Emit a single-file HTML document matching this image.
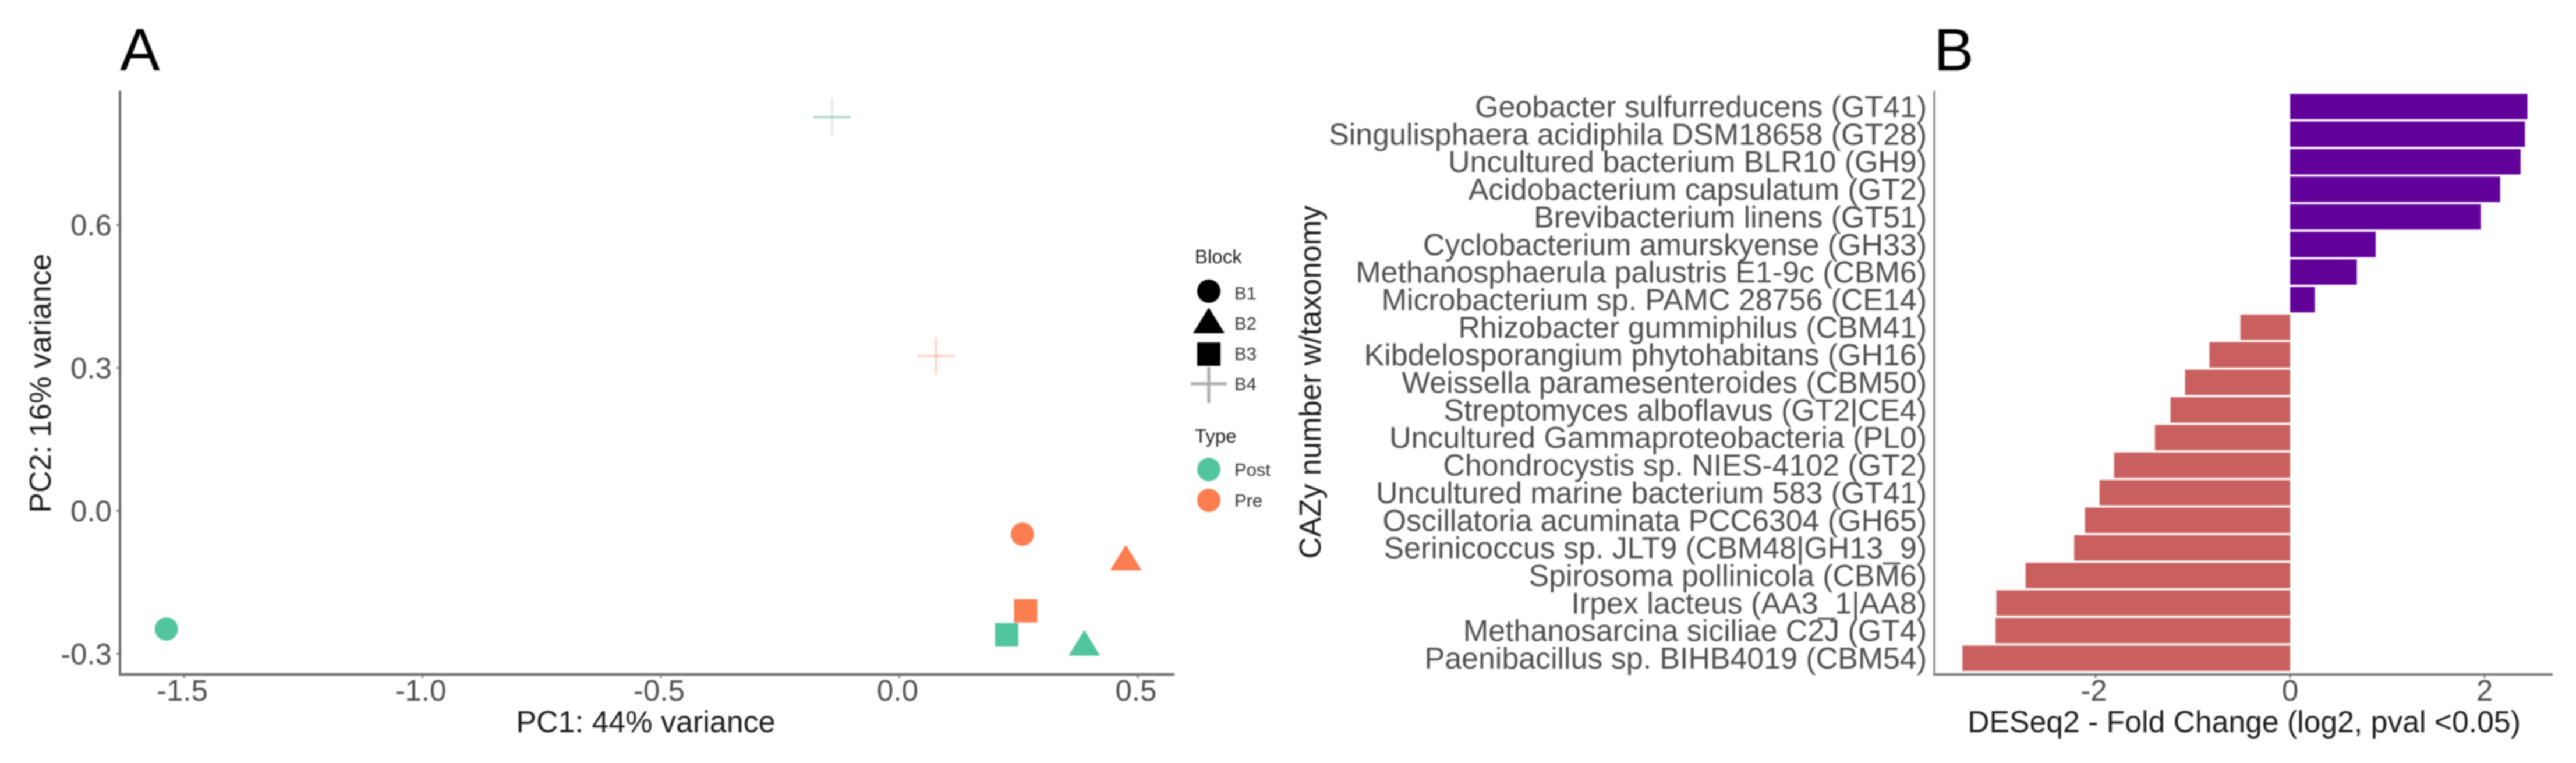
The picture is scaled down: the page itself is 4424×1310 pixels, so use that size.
<!DOCTYPE html>
<html lang="en">
<head>
<meta charset="utf-8">
<title>PCA and DESeq2 fold change</title>
<style>
html,body{margin:0;padding:0;background:#fff;width:4424px;height:1310px;overflow:hidden}
svg{display:block;font-family:"Liberation Sans",sans-serif;filter:blur(1.2px)}
</style>
</head>
<body>
<svg id="fig" width="4424" height="1310" viewBox="0 0 4424 1310" xmlns="http://www.w3.org/2000/svg">
<rect width="4424" height="1310" fill="#fff"/>
<text x="206" y="121" font-size="103" fill="#000">A</text>
<text x="3321" y="121" font-size="103" fill="#000">B</text>
<g id="panelA"></g>
<g id="panelB"></g>
<line x1="206" y1="156" x2="206" y2="1160" stroke="#666" stroke-width="4"/>
<line x1="204" y1="1158" x2="2017" y2="1158" stroke="#777" stroke-width="5"/>
<text x="1109" y="1257" font-size="52" text-anchor="middle" fill="#1a1a1a">PC1: 44% variance</text>
<text transform="translate(87,658) rotate(-90)" font-size="52" text-anchor="middle" fill="#1a1a1a">PC2: 16% variance</text>
<line x1="3322" y1="156" x2="3322" y2="1160" stroke="#777" stroke-width="3"/>
<line x1="3320" y1="1158" x2="4384" y2="1158" stroke="#777" stroke-width="4"/>
<text x="3854" y="1257" font-size="51.7" text-anchor="middle" fill="#1a1a1a">DESeq2 - Fold Change (log2, pval &lt;0.05)</text>
<text transform="translate(2268,656) rotate(-90)" font-size="51.5" text-anchor="middle" fill="#1a1a1a">CAZy number w/taxonomy</text>
<g id="legend">
<text x="2052" y="452" font-size="33" fill="#222">Block</text>
<circle cx="2076" cy="500" r="20" fill="#000"/>
<polygon points="2076,528 2103,572 2049,572" fill="#000"/>
<rect x="2056" y="588" width="40" height="40" fill="#000"/>
<path d="M2045 659H2107M2076 630V692" stroke="#aaa" stroke-width="5" fill="none"/>
<text x="2120" y="514" font-size="31" fill="#333">B1</text>
<text x="2120" y="566" font-size="31" fill="#333">B2</text>
<text x="2120" y="618" font-size="31" fill="#333">B3</text>
<text x="2120" y="670" font-size="31" fill="#333">B4</text>
<text x="2052" y="760" font-size="33" fill="#222">Type</text>
<circle cx="2076" cy="806" r="20" fill="#52c59f"/>
<circle cx="2076" cy="859" r="20" fill="#fb7d50"/>
<text x="2120" y="817" font-size="31" fill="#333">Post</text>
<text x="2120" y="870" font-size="31" fill="#333">Pre</text>
</g>
</svg>
<script>
var NS = 'http://www.w3.org/2000/svg';

// Panel A data
var pc1Values = [-1.537, 0.388, 0.225, -0.141, 0.258, 0.475, 0.265, 0.077];
var pc2Values = [-0.248, -0.282, -0.26, 0.826, -0.049, -0.103, -0.21, 0.325];
var pointBlocks = ['B1', 'B2', 'B3', 'B4', 'B1', 'B2', 'B3', 'B4'];
var pointTypes = ['Post', 'Post', 'Post', 'Post', 'Pre', 'Pre', 'Pre', 'Pre'];
var pcaXTicks = [-1.5, -1.0, -0.5, 0.0, 0.5];
var pcaYTicks = [-0.3, 0.0, 0.3, 0.6];

// Panel B data
var taxaLabels = ['Geobacter sulfurreducens (GT41)', 'Singulisphaera acidiphila DSM18658 (GT28)', 'Uncultured bacterium BLR10 (GH9)', 'Acidobacterium capsulatum (GT2)', 'Brevibacterium linens (GT51)', 'Cyclobacterium amurskyense (GH33)', 'Methanosphaerula palustris E1-9c (CBM6)', 'Microbacterium sp. PAMC 28756 (CE14)', 'Rhizobacter gummiphilus (CBM41)', 'Kibdelosporangium phytohabitans (GH16)', 'Weissella paramesenteroides (CBM50)', 'Streptomyces alboflavus (GT2|CE4)', 'Uncultured Gammaproteobacteria (PL0)', 'Chondrocystis sp. NIES-4102 (GT2)', 'Uncultured marine bacterium 583 (GT41)', 'Oscillatoria acuminata PCC6304 (GH65)', 'Serinicoccus sp. JLT9 (CBM48|GH13_9)', 'Spirosoma pollinicola (CBM6)', 'Irpex lacteus (AA3_1|AA8)', 'Methanosarcina siciliae C2J (GT4)', 'Paenibacillus sp. BIHB4019 (CBM54)'];
var foldChanges = [2.44, 2.415, 2.37, 2.16, 1.96, 0.88, 0.686, 0.254, -0.51, -0.83, -1.08, -1.23, -1.39, -1.81, -1.96, -2.11, -2.22, -2.72, -3.02, -3.03, -3.37];
var foldTicks = [-2, 0, 2];

function xA(v) { return 1544.5 + 819 * v; }
function yA(v) { return 877 - 818 * v; }
function xB(v) { return 3933 + 167 * v; }
function yB(i) { return 183 + 47.35 * i; }

function make(tag, attrs) {
  var el = document.createElementNS(NS, tag);
  for (var k in attrs) { el.setAttribute(k, attrs[k]); }
  return el;
}

var panelA = document.getElementById('panelA');
var panelB = document.getElementById('panelB');
var typeColor = { Post: '#52c59f', Pre: '#fb7d50' };

pcaXTicks.forEach(function (t) {
  var tick = make('line', { x1: xA(t), x2: xA(t), y1: 1158, y2: 1164, stroke: '#777', 'stroke-width': 3 });
  
  
  panelA.appendChild(tick);
  var lab = make('text', { x: xA(t) - 3, y: 1203, 'font-size': 51, 'text-anchor': 'middle', fill: '#4d4d4d' });
  
  
  lab.textContent = t.toFixed(1);
  panelA.appendChild(lab);
});

pcaYTicks.forEach(function (t) {
  var tick = make('line', { x1: 200, x2: 206, y1: yA(t), y2: yA(t), stroke: '#777', 'stroke-width': 3 });
  
  
  panelA.appendChild(tick);
  var lab = make('text', { x: 192, y: yA(t) + 18, 'font-size': 51, 'text-anchor': 'end', fill: '#4d4d4d' });
  
  
  lab.textContent = t.toFixed(1);
  panelA.appendChild(lab);
});

pc1Values.forEach(function (v, i) {
  var cx = xA(v);
  var cy = yA(pc2Values[i]);
  var type = pointTypes[i];
  var color = typeColor[type];
  var block = pointBlocks[i];
  var mark;
  if (block === 'B1') {
    mark = make('circle', { cx: cx, cy: cy, r: 20, fill: color });
  } else if (block === 'B2') {
    mark = make('polygon', { points: cx + ',' + (cy - 26) + ' ' + (cx + 27) + ',' + (cy + 18) + ' ' + (cx - 27) + ',' + (cy + 18), fill: color });
  } else if (block === 'B3') {
    mark = make('rect', { x: cx - 20, y: cy - 20, width: 40, height: 40, fill: color });
  } else {
    mark = make('g', {});
    var armH = make('line', { x1: cx - 32, x2: cx + 32, y1: cy, y2: cy, stroke: type === 'Post' ? '#8fcfb8' : color, 'stroke-opacity': type === 'Post' ? 0.7 : 0.35, 'stroke-width': 4 });
    
    
    mark.appendChild(armH);
    var armV = make('line', { x1: cx, x2: cx, y1: cy - 32, y2: cy + 32, stroke: type === 'Post' ? '#bbb' : color, 'stroke-opacity': type === 'Post' ? 0.3 : 0.35, 'stroke-width': 4 });
    
    
    mark.appendChild(armV);
  }
  
  
  panelA.appendChild(mark);
});

foldTicks.forEach(function (t) {
  var tick = make('line', { x1: xB(t), x2: xB(t), y1: 1158, y2: 1164, stroke: '#777', 'stroke-width': 3 });
  
  
  panelB.appendChild(tick);
  var lab = make('text', { x: xB(t) - (t < 0 ? 3 : 0), y: 1203, 'font-size': 51, 'text-anchor': 'middle', fill: '#4d4d4d' });
  
  
  lab.textContent = String(t);
  panelB.appendChild(lab);
});

taxaLabels.forEach(function (name, i) {
  var v = foldChanges[i];
  var bar = make('rect', { x: Math.min(xB(0), xB(v)), y: yB(i) - 21.75, width: Math.abs(xB(v) - xB(0)), height: 43.5, fill: v >= 0 ? '#62009a' : '#c9605f' });
  
  
  panelB.appendChild(bar);
  var lab = make('text', { x: 3309, y: yB(i) + 18, 'font-size': 51.9, 'text-anchor': 'end', fill: '#4d4d4d' });
  
  
  lab.textContent = name;
  panelB.appendChild(lab);
});
</script>
</body>
</html>
